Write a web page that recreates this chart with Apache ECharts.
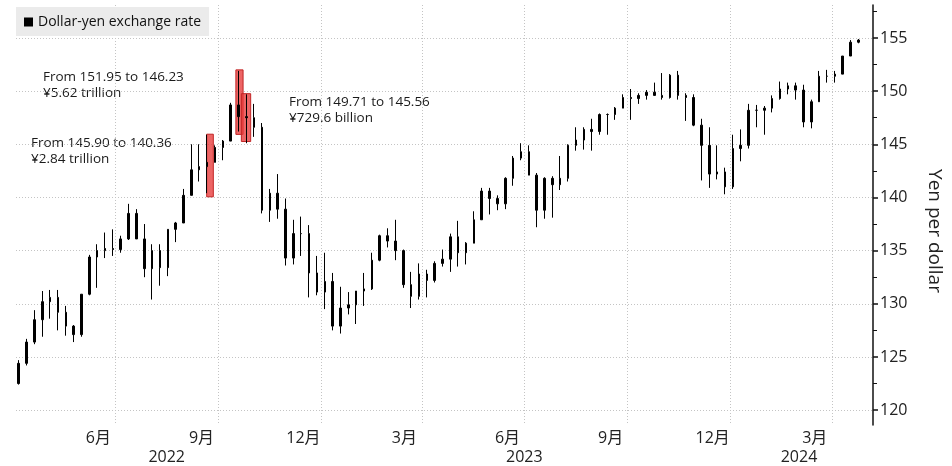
<!DOCTYPE html>
<html>
<head>
<meta charset="utf-8">
<title>Dollar-yen exchange rate</title>
<script src="https://cdn.jsdelivr.net/npm/echarts@6/dist/echarts.min.js"></script>
<style>
  html, body { margin: 0; padding: 0; background: #fff; }
  #chart { width: 952px; height: 466px; }
</style>
</head>
<body>
<div id="chart"></div>
<script>
// weekly candles, week starting Monday
const weeks = [
  '2022-04-04', '2022-04-11', '2022-04-18', '2022-04-25', '2022-05-02', '2022-05-09', '2022-05-16', '2022-05-23',
  '2022-05-30', '2022-06-06', '2022-06-13', '2022-06-20', '2022-06-27', '2022-07-04', '2022-07-11', '2022-07-18',
  '2022-07-25', '2022-08-01', '2022-08-08', '2022-08-15', '2022-08-22', '2022-08-29', '2022-09-05', '2022-09-12',
  '2022-09-19', '2022-09-26', '2022-10-03', '2022-10-10', '2022-10-17', '2022-10-24', '2022-10-31', '2022-11-07',
  '2022-11-14', '2022-11-21', '2022-11-28', '2022-12-05', '2022-12-12', '2022-12-19', '2022-12-26',
  '2023-01-02', '2023-01-09', '2023-01-16', '2023-01-23', '2023-01-30', '2023-02-06', '2023-02-13', '2023-02-20',
  '2023-02-27', '2023-03-06', '2023-03-13', '2023-03-20', '2023-03-27', '2023-04-03', '2023-04-10', '2023-04-17',
  '2023-04-24', '2023-05-01', '2023-05-08', '2023-05-15', '2023-05-22', '2023-05-29', '2023-06-05', '2023-06-12',
  '2023-06-19', '2023-06-26', '2023-07-03', '2023-07-10', '2023-07-17', '2023-07-24', '2023-07-31', '2023-08-07',
  '2023-08-14', '2023-08-21', '2023-08-28', '2023-09-04', '2023-09-11', '2023-09-18', '2023-09-25', '2023-10-02',
  '2023-10-09', '2023-10-16', '2023-10-23', '2023-10-30', '2023-11-06', '2023-11-13', '2023-11-20', '2023-11-27',
  '2023-12-04', '2023-12-11', '2023-12-18', '2023-12-25',
  '2024-01-01', '2024-01-08', '2024-01-15', '2024-01-22', '2024-01-29', '2024-02-05', '2024-02-12', '2024-02-19',
  '2024-02-26', '2024-03-04', '2024-03-11', '2024-03-18', '2024-03-25', '2024-04-01', '2024-04-08', '2024-04-15',
  '2024-04-22'
];
const open = [
  122.5, 124.4, 126.4, 128.5, 130.2, 130.6, 129.2, 127.9, 127.1, 130.9, 134.4, 135.0, 135.2, 135.1, 136.1, 138.5,
  136.1, 133.3, 135.0, 133.4, 137.0, 137.6, 140.2, 142.6, 142.9, 143.3, 144.7, 145.3, 148.7, 147.6, 147.5, 146.6,
  138.8, 140.4, 138.9, 134.3, 136.6, 136.6, 132.9,
  131.1, 132.1, 127.9, 129.6, 129.9, 131.2, 131.4, 134.1, 136.4, 135.9, 135.0, 131.8, 130.7, 132.8, 132.2, 133.8,
  134.2, 136.3, 134.8, 135.7, 137.9, 140.6, 139.9, 139.4, 141.8, 143.7, 144.3, 142.1, 138.8, 141.8, 141.2, 141.8,
  144.9, 145.4, 146.4, 146.2, 147.8, 147.8, 148.4, 149.4, 149.3, 149.6, 149.9, 149.6, 149.4, 151.5, 149.6, 149.4,
  146.8, 144.9, 142.2, 142.4,
  141.0, 144.6, 144.9, 148.2, 148.2, 148.4, 149.3, 150.2, 150.5, 150.1, 147.1, 149.0, 151.4, 151.4, 151.6, 153.3,
  154.6
];
const high = [
  124.7, 126.7, 129.4, 131.2, 131.3, 131.3, 129.8, 128.0, 130.9, 134.6, 135.6, 136.7, 137.0, 136.4, 139.4, 138.9,
  137.5, 135.6, 135.6, 137.0, 137.7, 140.8, 145.0, 145.0, 145.9, 144.9, 145.4, 148.9, 151.9, 149.7, 148.8, 147.0,
  140.8, 142.2, 139.9, 137.9, 138.2, 137.4, 134.5,
  134.8, 132.9, 131.6, 131.1, 131.2, 132.9, 134.8, 136.5, 137.1, 137.9, 135.1, 133.0, 133.8, 133.2, 134.0, 135.1,
  136.6, 137.8, 135.8, 138.7, 140.9, 140.9, 140.2, 141.9, 143.9, 145.1, 144.9, 142.3, 141.9, 142.0, 143.9, 145.0,
  146.6, 146.6, 147.4, 147.9, 147.9, 148.5, 149.7, 150.2, 149.8, 150.1, 150.8, 151.7, 151.6, 151.9, 149.8, 149.7,
  147.4, 146.6, 144.9, 142.8,
  145.9, 146.4, 148.8, 148.7, 148.6, 149.6, 150.9, 150.8, 150.8, 150.6, 149.2, 151.9, 152.0, 151.9, 153.3, 154.8,
  154.9
];
const low = [
  122.4, 124.2, 126.2, 126.9, 128.6, 127.5, 127.0, 126.4, 126.9, 130.8, 131.5, 134.3, 134.5, 134.8, 136.0, 136.5,
  132.5, 130.4, 131.7, 132.6, 135.8, 137.6, 140.2, 141.5, 140.4, 143.3, 143.5, 145.3, 146.2, 145.1, 145.7, 138.5,
  137.7, 138.0, 133.6, 133.7, 134.5, 130.6, 130.8,
  129.5, 127.5, 127.2, 129.0, 128.1, 129.8, 131.3, 134.0, 135.3, 134.1, 131.5, 129.6, 130.4, 130.6, 132.0, 133.5,
  133.0, 133.5, 133.7, 135.7, 137.9, 138.4, 138.8, 138.9, 141.1, 143.5, 142.1, 137.2, 138.0, 138.1, 140.7, 141.5,
  144.4, 144.5, 144.4, 145.9, 145.9, 147.3, 148.4, 147.3, 148.8, 149.2, 149.6, 149.2, 149.3, 149.2, 147.2, 146.7,
  141.6, 140.9, 141.7, 140.3,
  140.8, 143.4, 144.6, 146.6, 145.9, 148.0, 149.2, 149.7, 149.2, 146.6, 146.5, 149.0, 150.8, 150.8, 151.6, 153.3,
  154.5
];
const close = [
  124.4, 126.4, 128.5, 130.2, 130.6, 129.2, 127.9, 127.1, 130.9, 134.4, 135.0, 135.2, 135.1, 136.1, 138.5, 136.1,
  133.3, 135.0, 133.4, 137.0, 137.6, 140.2, 142.6, 142.9, 143.3, 144.7, 145.3, 148.7, 147.6, 147.5, 146.6, 138.8,
  140.4, 138.9, 134.3, 136.6, 136.6, 132.9, 131.1,
  132.1, 127.9, 129.6, 129.9, 131.2, 131.4, 134.1, 136.4, 135.9, 135.0, 131.8, 130.7, 132.8, 132.2, 133.8, 134.2,
  136.3, 134.8, 135.7, 137.9, 140.6, 139.9, 139.4, 141.8, 143.7, 144.3, 142.1, 138.8, 141.8, 141.2, 141.8, 144.9,
  145.4, 146.4, 146.2, 147.8, 147.8, 148.4, 149.4, 149.3, 149.6, 149.9, 149.6, 149.4, 151.5, 149.6, 149.4, 146.8,
  144.9, 142.2, 142.4, 141.0,
  144.6, 144.9, 148.2, 148.2, 148.4, 149.3, 150.2, 150.5, 150.1, 147.1, 149.0, 151.4, 151.4, 151.6, 153.3, 154.6,
  154.8
];

// intervention days (Sep 22, Oct 21, Oct 24 2022) and the span of each highlight box
const boxStart = ['2022-09-20 16:00', '2022-10-16 17:00', '2022-10-21 14:00'];
const boxEnd = ['2022-09-26 14:00', '2022-10-23 03:00', '2022-10-29 22:00'];
const rateFrom = [145.90, 151.95, 149.71];
const rateTo = [140.36, 146.23, 145.56];
const amounts = ['¥2.84 trillion', '¥5.62 trillion', '¥729.6 billion'];

const yTicks = [120, 125, 130, 135, 140, 145, 150, 155];
const yMinorTicks = [122.5, 127.5, 132.5, 137.5, 142.5, 147.5, 152.5, 157.5];
const quarterLines = ['2022-07-01', '2022-10-01', '2023-01-01', '2023-04-01', '2023-07-01', '2023-10-01', '2024-01-01', '2024-04-01'];
const monthLabels = ['2022-06-16', '2022-09-16', '2022-12-16', '2023-03-16', '2023-06-16', '2023-09-16', '2023-12-16', '2024-03-16'];
const yearLabels = ['2022-08-16', '2023-07-01', '2024-03-02'];

const DAY = 86400000;
const t = s => +echarts.time.parse(s);
const FONT = '"Open Sans", "Noto Sans CJK JP", sans-serif';

const candles = weeks.map((w, i) => [t(w) + 2 * DAY, open[i], close[i], low[i], high[i]]);

const areas = boxStart.map((d, i) => [
  { xAxis: t(d), yAxis: rateFrom[i] + 0.05 },
  { xAxis: t(boxEnd[i]), yAxis: rateTo[i] - 0.3 }
]);

// where the notes sit, same order as the boxes
const notePos = [[31, 135], [43, 69], [289, 94]];

const xMin = t('2022-04-03 14:00');
const xMax = t('2024-05-07');

const chart = echarts.init(document.getElementById('chart'));
chart.setOption({
  animation: false,
  grid: { left: 16, right: 71, top: 5, bottom: 41 },
  legend: {
    left: 16,
    top: 7,
    selectedMode: false,
    backgroundColor: '#ebebeb',
    padding: [8, 8, 7, 8],
    itemWidth: 9,
    itemHeight: 9,
    data: [{ name: 'Dollar-yen exchange rate', icon: 'rect', itemStyle: { color: '#000', borderWidth: 0 } }],
    textStyle: { fontFamily: FONT, fontSize: 14, color: '#111' }
  },
  xAxis: [
    {
      type: 'value',
      min: xMin,
      max: xMax,
      axisLine: { show: false },
      axisTick: { show: false, customValues: quarterLines.map(t) },
      splitLine: { show: true, lineStyle: { color: '#c4c4c4', type: [1, 2] } },
      axisLabel: {
        customValues: monthLabels.map(t),
        formatter: v => (new Date(v).getMonth() + 1) + '月',
        margin: 5,
        fontFamily: FONT,
        fontSize: 16,
        color: '#222'
      }
    },
    {
      type: 'value',
      min: xMin,
      max: xMax,
      position: 'bottom',
      offset: 19,
      axisLine: { show: false },
      axisTick: { show: false, customValues: yearLabels.map(t) },
      splitLine: { show: false },
      axisLabel: {
        customValues: yearLabels.map(t),
        formatter: v => String(new Date(v).getFullYear()),
        margin: 5,
        fontFamily: FONT,
        fontSize: 16,
        color: '#222'
      }
    }
  ],
  yAxis: [
    {
      type: 'value',
      position: 'right',
      min: 118.6,
      max: 158.1,
      axisLine: { show: true, lineStyle: { color: '#111', width: 1.5 } },
      axisTick: { show: true, customValues: yTicks, length: 5, lineStyle: { color: '#111', width: 1.5 } },
      axisLabel: { customValues: yTicks, margin: 7, fontFamily: FONT, fontSize: 16, color: '#222' },
      splitLine: { show: true, lineStyle: { color: '#c4c4c4', type: [1, 2] } },
      name: 'Yen per dollar',
      nameLocation: 'middle',
      nameRotate: -90,
      nameGap: 52,
      nameTextStyle: { fontFamily: FONT, fontSize: 19, color: '#222', padding: [0, 0, 0, 32] }
    },
    {
      type: 'value',
      position: 'right',
      min: 118.6,
      max: 158.1,
      axisLine: { show: false },
      axisTick: { show: true, customValues: yMinorTicks, length: 4, lineStyle: { color: '#111', width: 1 } },
      axisLabel: { show: false },
      splitLine: { show: false }
    }
  ],
  graphic: notePos.map((p, i) => ({
    type: 'text',
    left: p[0],
    top: p[1],
    style: {
      text: 'From ' + rateFrom[i].toFixed(2) + ' to ' + rateTo[i].toFixed(2) + '\n' + amounts[i],
      font: '13.5px ' + FONT,
      fill: '#1a1a1a',
      lineHeight: 16
    }
  })),
  series: [
    {
      name: 'Dollar-yen exchange rate',
      type: 'candlestick',
      data: candles,
      encode: { x: 0, y: [1, 2, 3, 4] },
      barWidth: 2,
      itemStyle: { color: '#000000', color0: '#000000', borderColor: '#000000', borderColor0: '#000000', borderWidth: 1 },
      markArea: {
        silent: true,
        itemStyle: { color: 'rgba(232,58,58,0.78)', borderColor: '#c22626', borderWidth: 1 },
        data: areas
      }
    }
  ]
});
</script>
</body>
</html>
